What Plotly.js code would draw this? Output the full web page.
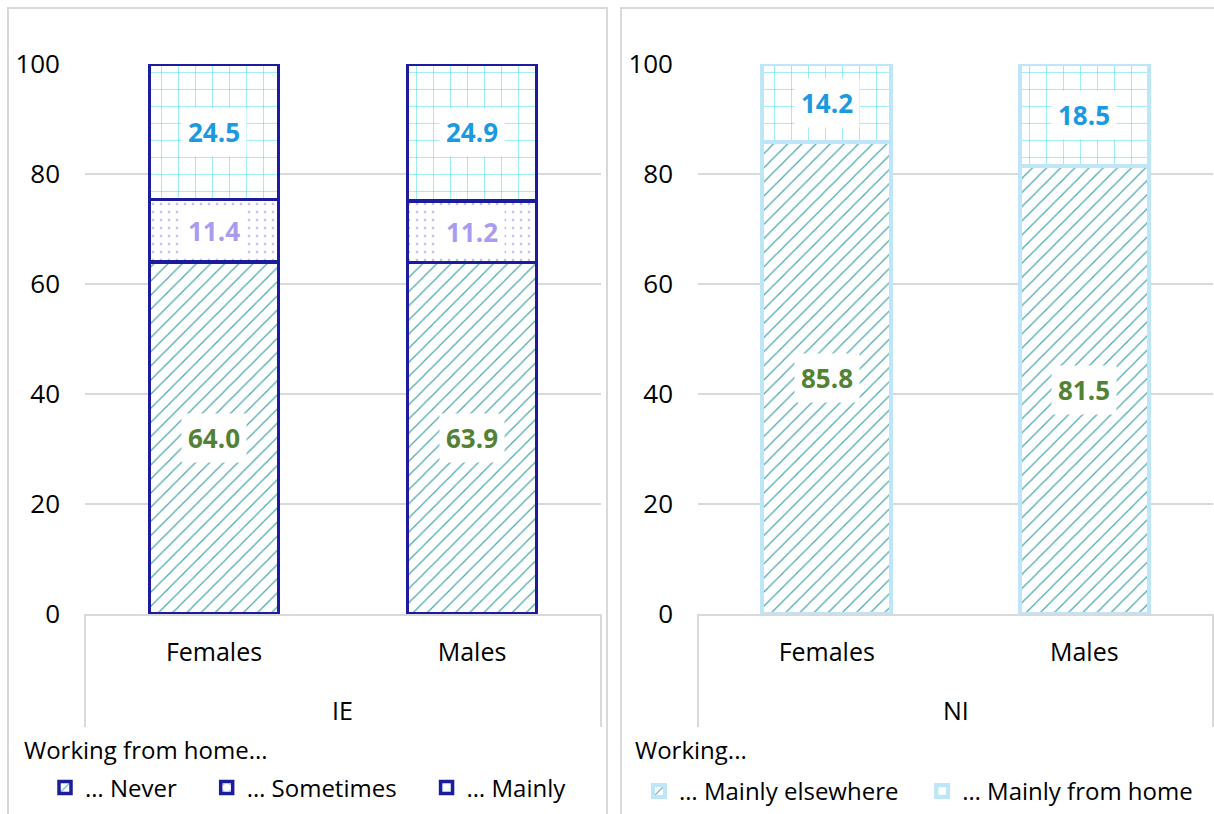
<!DOCTYPE html>
<html>
<head>
<meta charset="utf-8">
<script src="https://cdn.plot.ly/plotly-3.0.1.min.js"></script>
<style>html,body{margin:0;padding:0;background:#fff;}#chart{width:1214px;height:814px;}</style>
</head>
<body>
<div id="chart"></div>
<script>
// ---- data ----
const categories = ['Females', 'Males'];
const groups = ['IE', 'NI'];
const ieNever = [64.0, 63.9];
const ieSometimes = [11.4, 11.2];
const ieMainly = [24.5, 24.9];
const niElsewhere = [85.8, 81.5];
const niHome = [14.2, 18.5];
const ieNames = ['… Never', '… Sometimes', '… Mainly'];
const niNames = ['… Mainly elsewhere', '… Mainly from home'];
const ieLegendTitle = 'Working from home...';
const niLegendTitle = 'Working...';
const yTicks = [0, 20, 40, 60, 80, 100];

// ---- styles ----
const W = 1214, H = 814;
const FONT = 'Open Sans, Liberation Sans, sans-serif';
const navy = '#1c1c9c';
const lightBlue = '#bfe5f9';
const teal = '#4aa7ad';
const lavender = '#c3baf4';
const cyan = '#3fdde8';
const lblBlue = '#1b9ae0', lblLav = '#a99cf0', lblGreen = '#548235';
const grid = '#d9d9d9';
const NB = '\u00a0';

const px = v => v / W;
const py = v => 1 - v / H;

const pNever = {shape: '/', fgcolor: teal, bgcolor: '#ffffff', size: 10, solidity: 0.12};
const pSome = {shape: '.', fgcolor: lavender, bgcolor: '#ffffff', size: 8, solidity: 0.08};
const pMain = {shape: '+', fgcolor: cyan, bgcolor: '#ffffff', size: 17, solidity: 0.06};

function bar(y, name, pattern, lineColor, lw, xa, ya, legend) {
  return {
    type: 'bar', x: categories, y: y, name: name, width: 0.5,
    xaxis: xa, yaxis: ya, legend: legend,
    marker: {color: '#ffffff', pattern: pattern, line: {color: lineColor, width: lw}},
    hoverinfo: 'skip'
  };
}

const traces = [
  bar(ieNever, ieNames[0] + NB.repeat(4), pNever, navy, 3.5, 'x', 'y', 'legend'),
  bar(ieSometimes, ieNames[1] + NB.repeat(4), pSome, navy, 3.5, 'x', 'y', 'legend'),
  bar(ieMainly, ieNames[2], pMain, navy, 3.5, 'x', 'y', 'legend'),
  bar(niElsewhere, niNames[0] + NB.repeat(3), pNever, lightBlue, 4, 'x2', 'y2', 'legend2'),
  bar(niHome, niNames[1], pMain, lightBlue, 4, 'x2', 'y2', 'legend2')
];

// ---- labels ----
const annotations = [];
function addLabels(series, colors, xref, yref) {
  for (let c = 0; c < categories.length; c++) {
    let base = 0;
    series.forEach((s, i) => {
      annotations.push({
        x: categories[c], y: base + s[c] / 2, xref: xref, yref: yref,
        text: '<b>' + s[c].toFixed(1) + '</b>', showarrow: false,
        bgcolor: '#ffffff', borderpad: 6, yanchor: 'middle',
        font: {family: FONT, size: 26, color: colors[i]}
      });
      base += s[c];
    });
  }
}
addLabels([ieNever, ieSometimes, ieMainly], [lblGreen, lblLav, lblBlue], 'x', 'y');
addLabels([niElsewhere, niHome], [lblGreen, lblBlue], 'x2', 'y2');

groups.forEach((g, i) => {
  annotations.push({
    x: 0.5, xref: (i === 0 ? 'x' : 'x2') + ' domain', y: py(711), yref: 'paper',
    xanchor: 'center', yanchor: 'middle',
    text: g, showarrow: false, font: {family: FONT, size: 25, color: '#000'}
  });
});
[[ieLegendTitle, 22], [niLegendTitle, 633]].forEach(([t, x]) => {
  annotations.push({
    x: px(x), xref: 'paper', y: py(750), yref: 'paper', xanchor: 'left', yanchor: 'middle',
    text: t, showarrow: false, font: {family: FONT, size: 24, color: '#000'}
  });
});

// ---- shapes: panel borders and category dividers ----
const shapes = [
  {type: 'rect', xref: 'paper', yref: 'paper', x0: px(8), x1: px(607), y0: py(830), y1: py(8),
   line: {color: grid, width: 2}, layer: 'below'},
  {type: 'rect', xref: 'paper', yref: 'paper', x0: px(621), x1: px(1240), y0: py(830), y1: py(8),
   line: {color: grid, width: 2}, layer: 'below'}
];
['x', 'x2'].forEach(xr => {
  [0, 1].forEach(e => {
    shapes.push({type: 'line', xref: xr + ' domain', yref: 'paper', x0: e, x1: e,
      y0: py(615), y1: py(728), line: {color: grid, width: 2}, layer: 'below'});
  });
});

function yaxis(anchor) {
  return {
    domain: [py(615), py(64)], range: [0, 100], tickvals: yTicks,
    showgrid: true, gridcolor: grid, gridwidth: 2, zeroline: false, showline: false,
    ticks: '', ticklabelstandoff: 24, anchor: anchor, fixedrange: true,
    tickfont: {family: FONT, size: 26, color: '#000'}
  };
}
function xaxis(domain, anchor) {
  return {
    domain: domain, type: 'category', anchor: anchor, showgrid: false, zeroline: false,
    showline: true, linecolor: grid, linewidth: 2, ticks: '', ticklabelstandoff: 15,
    tickfont: {family: FONT, size: 25, color: '#000'}, fixedrange: true
  };
}

const legendBase = (x, y) => ({
  orientation: 'h', x: px(x), y: py(y), xanchor: 'left', yanchor: 'middle',
  font: {family: FONT, size: 24, color: '#000'}, traceorder: 'normal',
  bgcolor: 'rgba(0,0,0,0)', borderwidth: 0
});

const layout = {
  width: W, height: H, margin: {l: 0, r: 0, t: 0, b: 0},
  paper_bgcolor: '#ffffff', plot_bgcolor: 'rgba(0,0,0,0)',
  barmode: 'stack', showlegend: true,
  font: {family: FONT, size: 24, color: '#000'},
  xaxis: xaxis([px(85), px(601)], 'y'),
  yaxis: yaxis('x'),
  xaxis2: xaxis([px(698), px(1213)], 'y2'),
  yaxis2: yaxis('x2'),
  legend: legendBase(45, 788),
  legend2: legendBase(639, 792),
  annotations: annotations,
  shapes: shapes
};

Plotly.newPlot('chart', traces, layout, {displayModeBar: false, staticPlot: true});
</script>
</body>
</html>
